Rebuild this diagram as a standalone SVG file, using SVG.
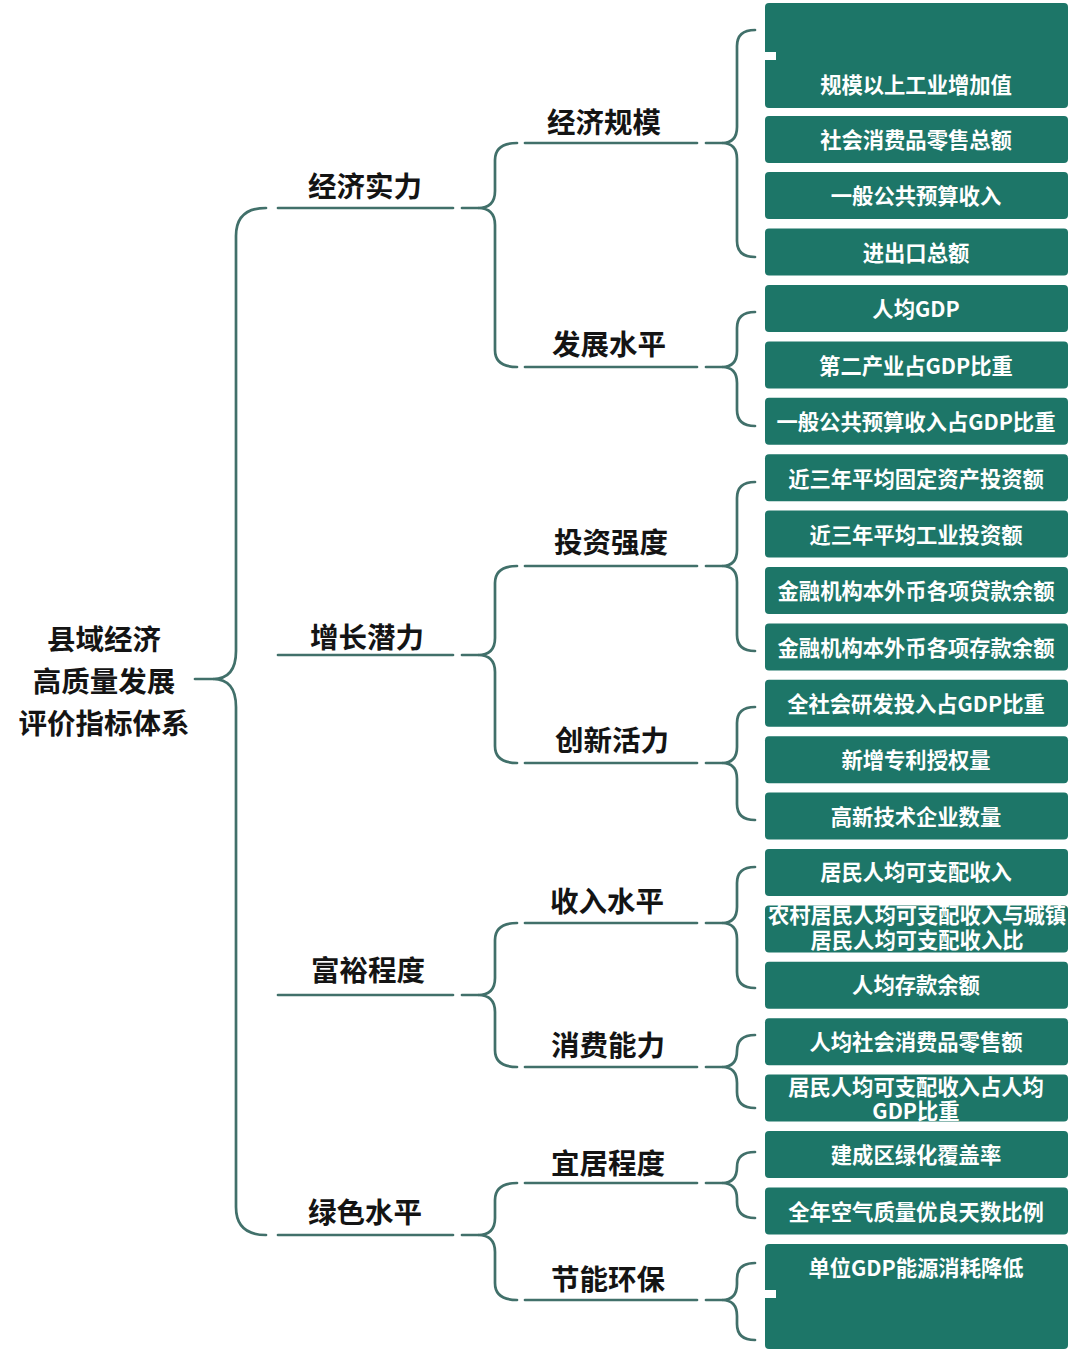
<svg xmlns="http://www.w3.org/2000/svg" width="1080" height="1353" viewBox="0 0 1080 1353">
<style>
.c{fill:none;stroke:#41706a;stroke-width:2.7;stroke-linecap:round}
.lb{font-family:"Noto Sans CJK SC","Noto Sans",sans-serif;font-weight:bold;font-size:28.5px;fill:#141414;text-anchor:middle;dominant-baseline:central}
.bx{fill:#1d7668}
.bt{font-family:"Noto Sans CJK SC","Noto Sans",sans-serif;font-weight:bold;font-size:21.3px;fill:#ffffff;text-anchor:middle;dominant-baseline:central}
</style>
<rect width="1080" height="1353" fill="#ffffff"/>
<g id="connectors">
<path class="c" d="M195,679 L213,679"/>
<path class="c" d="M266,208 Q236,208 236,236 L236,651 Q236,679 213,679 Q236,679 236,707 L236,1207 Q236,1235 266,1235"/>
<path class="c" d="M278,208 L453,208 M462,208 L478,208"/>
<path class="c" d="M278,655 L453,655 M462,655 L478,655"/>
<path class="c" d="M278,995 L453,995 M462,995 L478,995"/>
<path class="c" d="M278,1235 L453,1235 M462,1235 L478,1235"/>
<path class="c" d="M517,143 Q495,143 495,160 L495,191 Q495,208 478,208 Q495,208 495,225 L495,350 Q495,367 517,367"/>
<path class="c" d="M517,566 Q495,566 495,583 L495,638 Q495,655 478,655 Q495,655 495,672 L495,746 Q495,763 517,763"/>
<path class="c" d="M517,923 Q495,923 495,940 L495,978 Q495,995 478,995 Q495,995 495,1012 L495,1050 Q495,1067 517,1067"/>
<path class="c" d="M517,1183 Q495,1183 495,1200 L495,1218 Q495,1235 478,1235 Q495,1235 495,1252 L495,1283 Q495,1300 517,1300"/>
<path class="c" d="M525,143 L697,143 M706,143 L722,143"/>
<path class="c" d="M525,367 L697,367 M706,367 L722,367"/>
<path class="c" d="M525,566 L697,566 M706,566 L722,566"/>
<path class="c" d="M525,763 L697,763 M706,763 L722,763"/>
<path class="c" d="M525,923 L697,923 M706,923 L722,923"/>
<path class="c" d="M525,1067 L697,1067 M706,1067 L722,1067"/>
<path class="c" d="M525,1183 L697,1183 M706,1183 L722,1183"/>
<path class="c" d="M525,1300 L697,1300 M706,1300 L722,1300"/>
<path class="c" d="M755,30 Q737,30 737,46 L737,127 Q737,143 722,143 Q737,143 737,159 L737,241 Q737,257 755,257"/>
<path class="c" d="M755,312 Q737,312 737,328 L737,351 Q737,367 722,367 Q737,367 737,383 L737,410 Q737,426 755,426"/>
<path class="c" d="M755,482 Q737,482 737,498 L737,550 Q737,566 722,566 Q737,566 737,582 L737,635 Q737,651 755,651"/>
<path class="c" d="M755,707 Q737,707 737,723 L737,747 Q737,763 722,763 Q737,763 737,779 L737,804 Q737,820 755,820"/>
<path class="c" d="M755,867 Q737,867 737,883 L737,907 Q737,923 722,923 Q737,923 737,939 L737,972 Q737,988 755,988"/>
<path class="c" d="M755,1035 Q737,1035 737,1051 Q737,1067 722,1067 Q737,1067 737,1083 L737,1092 Q737,1108 755,1108"/>
<path class="c" d="M755,1152 Q737,1152 737,1167 Q737,1183 722,1183 Q737,1183 737,1199 L737,1202 Q737,1218 755,1218"/>
<path class="c" d="M755,1263 Q737,1263 737,1279 L737,1284 Q737,1300 722,1300 Q737,1300 737,1316 L737,1324 Q737,1340 755,1340"/>
</g>
<g id="root"><text class="lb" x="104" y="637">县域经济</text><text class="lb" x="104" y="679">高质量发展</text><text class="lb" x="104" y="721">评价指标体系</text></g>
<g id="n-jjsl"><text class="lb" x="365" y="184">经济实力</text></g>
<g id="n-zzql"><text class="lb" x="367" y="635">增长潜力</text></g>
<g id="n-fycd"><text class="lb" x="368" y="968">富裕程度</text></g>
<g id="n-lssp"><text class="lb" x="365" y="1210">绿色水平</text></g>
<g id="n-jjgm"><text class="lb" x="604" y="120">经济规模</text></g>
<g id="n-fzsp"><text class="lb" x="609" y="342">发展水平</text></g>
<g id="n-tzqd"><text class="lb" x="611" y="540">投资强度</text></g>
<g id="n-cxhl"><text class="lb" x="612" y="738">创新活力</text></g>
<g id="n-srsp"><text class="lb" x="607" y="899">收入水平</text></g>
<g id="n-xfnl"><text class="lb" x="608" y="1043">消费能力</text></g>
<g id="n-yjcd"><text class="lb" x="608" y="1161">宜居程度</text></g>
<g id="n-jnhb"><text class="lb" x="608" y="1277">节能环保</text></g>
<g id="b01"><rect class="bx" x="765" y="3" width="303" height="105" rx="4"/><rect x="763" y="52" width="13" height="8" fill="#ffffff"/><text class="bt" x="916" y="83">规模以上工业增加值</text></g>
<g id="b02"><rect class="bx" x="765" y="116" width="303" height="47" rx="4"/><text class="bt" x="916" y="138">社会消费品零售总额</text></g>
<g id="b03"><rect class="bx" x="765" y="172" width="303" height="47" rx="4"/><text class="bt" x="916" y="194">一般公共预算收入</text></g>
<g id="b04"><rect class="bx" x="765" y="228.6" width="303" height="47" rx="4"/><text class="bt" x="916" y="251">进出口总额</text></g>
<g id="b05"><rect class="bx" x="765" y="285" width="303" height="47" rx="4"/><text class="bt" x="916" y="307">人均GDP</text></g>
<g id="b06"><rect class="bx" x="765" y="341.4" width="303" height="47" rx="4"/><text class="bt" x="916" y="364">第二产业占GDP比重</text></g>
<g id="b07"><rect class="bx" x="765" y="397.8" width="303" height="47" rx="4"/><text class="bt" x="916" y="420">一般公共预算收入占GDP比重</text></g>
<g id="b08"><rect class="bx" x="765" y="454.2" width="303" height="47" rx="4"/><text class="bt" x="916" y="477">近三年平均固定资产投资额</text></g>
<g id="b09"><rect class="bx" x="765" y="510.6" width="303" height="47" rx="4"/><text class="bt" x="916" y="533">近三年平均工业投资额</text></g>
<g id="b10"><rect class="bx" x="765" y="567" width="303" height="47" rx="4"/><text class="bt" x="916" y="589.5">金融机构本外币各项贷款余额</text></g>
<g id="b11"><rect class="bx" x="765" y="623.4" width="303" height="47" rx="4"/><text class="bt" x="916" y="646">金融机构本外币各项存款余额</text></g>
<g id="b12"><rect class="bx" x="765" y="679.8" width="303" height="47" rx="4"/><text class="bt" x="916" y="702">全社会研发投入占GDP比重</text></g>
<g id="b13"><rect class="bx" x="765" y="736.2" width="303" height="47" rx="4"/><text class="bt" x="916" y="758.5">新增专利授权量</text></g>
<g id="b14"><rect class="bx" x="765" y="792.6" width="303" height="47" rx="4"/><text class="bt" x="916" y="815">高新技术企业数量</text></g>
<g id="b15"><rect class="bx" x="765" y="849" width="303" height="47" rx="4"/><text class="bt" x="916" y="870.5">居民人均可支配收入</text></g>
<g id="b16"><rect class="bx" x="765" y="905.4" width="303" height="47" rx="4"/><text class="bt" x="917" y="913" font-size="21">农村居民人均可支配收入与城镇</text><text class="bt" x="917" y="938" font-size="21">居民人均可支配收入比</text></g>
<g id="b17"><rect class="bx" x="765" y="961.8" width="303" height="47" rx="4"/><text class="bt" x="916" y="983">人均存款余额</text></g>
<g id="b18"><rect class="bx" x="765" y="1018.2" width="303" height="47" rx="4"/><text class="bt" x="916" y="1040">人均社会消费品零售额</text></g>
<g id="b19"><rect class="bx" x="765" y="1074.6" width="303" height="47" rx="4"/><text class="bt" x="916" y="1085" font-size="21">居民人均可支配收入占人均</text><text class="bt" x="916" y="1109" font-size="21">GDP比重</text></g>
<g id="b20"><rect class="bx" x="765" y="1131" width="303" height="47" rx="4"/><text class="bt" x="916" y="1153">建成区绿化覆盖率</text></g>
<g id="b21"><rect class="bx" x="765" y="1187.4" width="303" height="47" rx="4"/><text class="bt" x="916" y="1210.5">全年空气质量优良天数比例</text></g>
<g id="b22"><rect class="bx" x="765" y="1244" width="303" height="105" rx="4"/><rect x="763" y="1290" width="13" height="8" fill="#ffffff"/><text class="bt" x="916" y="1266">单位GDP能源消耗降低</text></g>
</svg>
